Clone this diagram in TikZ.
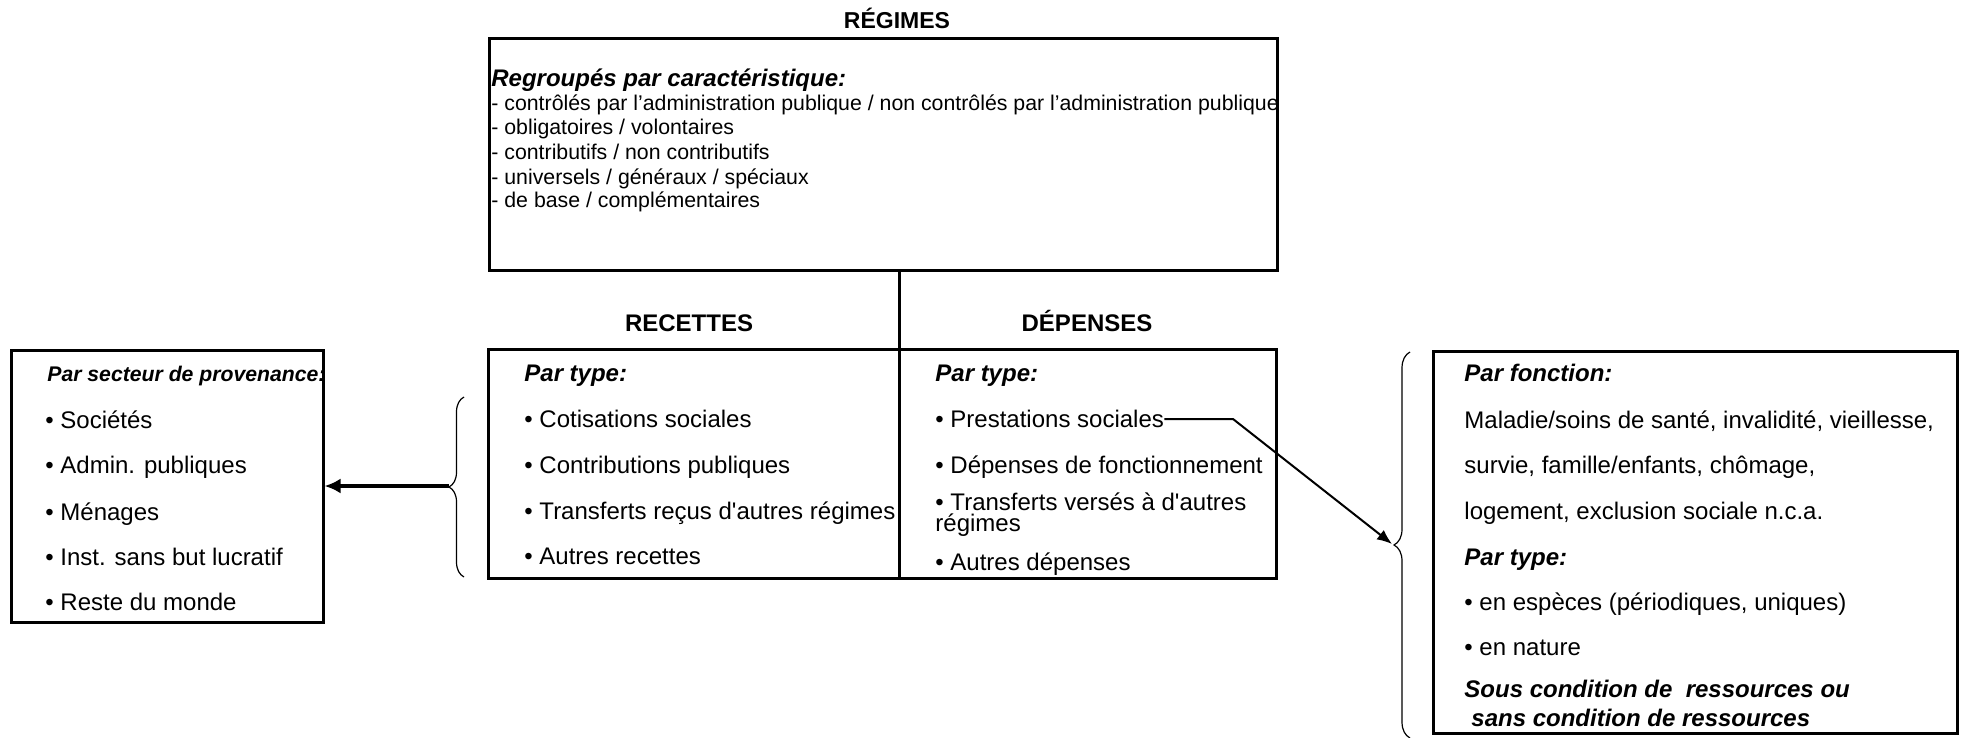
\documentclass[tikz,border=0pt]{standalone}
\usepackage{fontspec}
\setmainfont{Liberation Sans}
\usetikzlibrary{arrows.meta,decorations.pathreplacing}

\begin{document}
\begin{tikzpicture}[x=0.5pt,y=0.5pt,
	box/.style={draw, line width=1.5pt, inner sep=0pt},
	txt/.style={anchor=west, inner sep=0pt, font=\fontsize{12}{14}\selectfont, text height=8.6pt, text depth=0pt},
	small/.style={txt, font=\fontsize{10.65}{12}\selectfont, text height=7.7pt},
	head/.style={txt, font=\fontsize{12}{14}\selectfont\bfseries\itshape},
	title/.style={txt, anchor=center, font=\fontsize{12}{14}\selectfont\bfseries},
	curly/.style={decorate, decoration={brace, amplitude=#1}, line width=0.6pt},
	bigarrow/.style={-{Latex[length=8pt,width=7.5pt]}, line width=1.9pt},
	thinarrow/.style={-{Latex[length=7.5pt,width=6pt]}, line width=1pt}]
	\useasboundingbox (0,0) rectangle (1963,-738);
	
	% boxes
	\node[box, minimum width=394pt, minimum height=115.5pt] (regimes) at (883,-154.5) {};
	\node[box, minimum width=394pt, minimum height=114.5pt] (budget) at (882,-463.5) {};
	\node[box, minimum width=156pt, minimum height=136pt] (secteur) at (167,-486) {};
	\node[box, minimum width=262pt, minimum height=191pt] (fonction) at (1695,-542) {};
	
	% titles
	\node[title, font=\fontsize{11.5}{14}\selectfont\bfseries] (t_regimes) at (897,-20) {RÉGIMES};
	\node[title] (t_recettes) at (689,-323) {RECETTES};
	\node[title] (t_depenses) at (1087,-323) {DÉPENSES};
	
	% regimes
	\node[head] (r0) at (491,-78) {Regroupés par caractéristique:};
	\node[small] (r1) at (491,-103) {- contrôlés par l’administration publique / non contrôlés par l’administration publique};
	\node[small] (r2) at (491,-127) {- obligatoires / volontaires};
	\node[small] (r3) at (491,-152) {- contributifs / non contributifs};
	\node[small] (r4) at (491,-177) {- universels / généraux / spéciaux};
	\node[small] (r5) at (491,-200) {- de base / complémentaires};
	
	% recettes
	\node[head] (rec0) at (524,-373) {Par type:};
	\node[txt] (rec1) at (524,-419) {\textbullet{} Cotisations sociales};
	\node[txt] (rec2) at (524,-465) {\textbullet{} Contributions publiques};
	\node[txt] (rec3) at (524,-511) {\textbullet{} Transferts reçus d\textquotesingle autres régimes};
	\node[txt] (rec4) at (524,-556) {\textbullet{} Autres recettes};
	
	% depenses
	\node[head] (dep0) at (935,-373) {Par type:};
	\node[txt] (prest) at (935,-419) {\textbullet{} Prestations sociales};
	\node[txt] (dep2) at (935,-465) {\textbullet{} Dépenses de fonctionnement};
	\node[txt] (dep3) at (935,-502) {\textbullet{} Transferts versés à d\textquotesingle autres};
	\node[txt] (dep3b) at (935,-523) {régimes};
	\node[txt] (dep4) at (935,-562) {\textbullet{} Autres dépenses};
	
	% secteur
	\node[head, font=\fontsize{10.6}{13}\selectfont\bfseries\itshape] (sec0) at (47,-373) {Par secteur de provenance:};
	\node[txt] (sec1) at (45,-420) {\textbullet{} Sociétés};
	\node[txt] (sec2) at (45,-465) {\textbullet{} Admin. publiques};
	\node[txt] (sec3) at (45,-512) {\textbullet{} Ménages};
	\node[txt] (sec4) at (45,-557) {\textbullet{} Inst. sans but lucratif};
	\node[txt] (sec5) at (45,-602) {\textbullet{} Reste du monde};
	
	% fonction
	\node[head] (f0) at (1464,-373) {Par fonction:};
	\node[txt] (f1) at (1464,-420) {Maladie/soins de santé, invalidité, vieillesse,};
	\node[txt] (f2) at (1464,-465) {survie, famille/enfants, chômage,};
	\node[txt] (f3) at (1464,-511) {logement, exclusion sociale n.c.a.};
	\node[head] (f4) at (1464,-557) {Par type:};
	\node[txt] (f5) at (1464,-602) {\textbullet{} en espèces (périodiques, uniques)};
	\node[txt] (f6) at (1464,-647) {\textbullet{} en nature};
	\node[head] (f7) at (1464,-689) {Sous condition de\ \ ressources ou};
	\node[head] (f8) at (1471,-718) {sans condition de ressources};
	
	% connectors
	\coordinate (split) at (899,-578);
	\draw[line width=1.5pt] (split |- regimes.south) -- (split);
	
	\coordinate (bl1) at (464,-577);
	\coordinate (bl2) at (464,-397);
	\coordinate (tipL) at (449,-486);
	\draw[curly=7.5pt] (bl1) -- (bl2);
	\draw[bigarrow] (tipL) -- (secteur);
	
	\coordinate (br1) at (1410,-738);
	\coordinate (br2) at (1410,-352);
	\coordinate (tipR) at (1392,-544);
	\coordinate (bend) at (1233,-422);
	\draw[curly=8pt] (br1) -- (br2);
	\draw[thinarrow] (prest.east) -- (prest.east -| bend) -- (tipR);
\end{tikzpicture}
\end{document}
